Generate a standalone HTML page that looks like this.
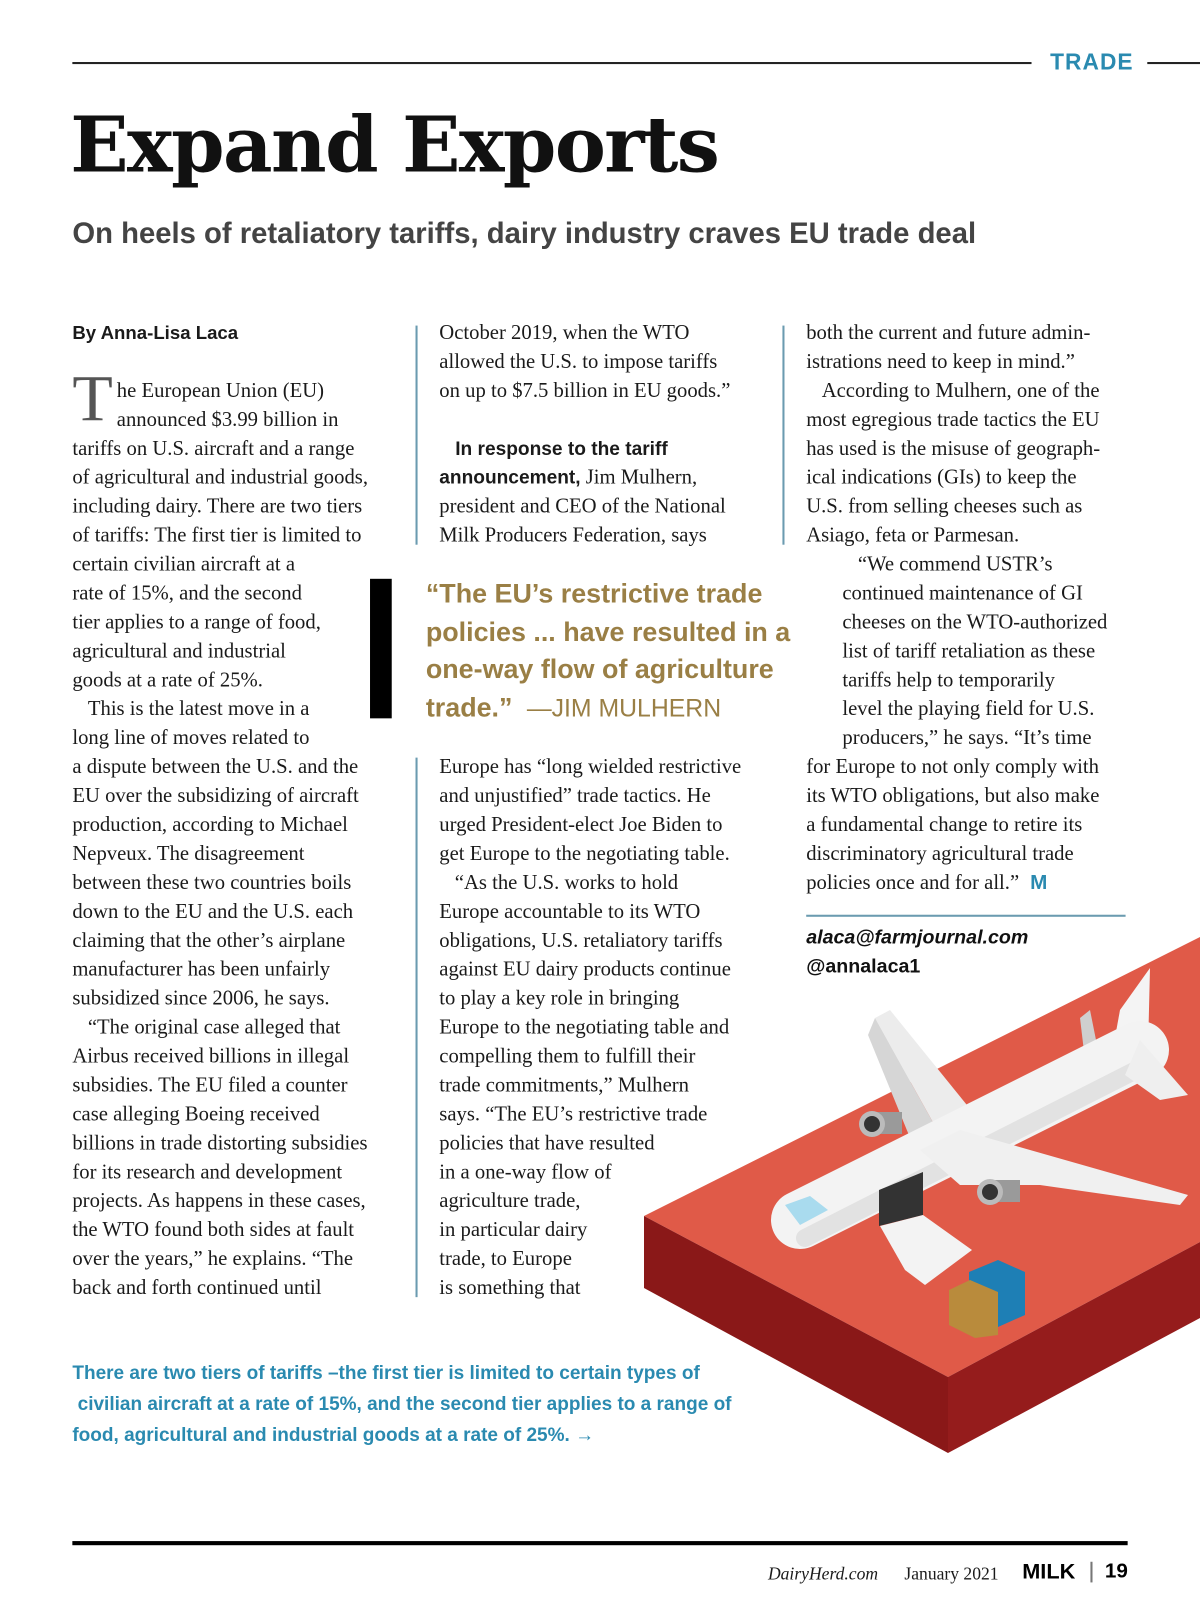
<!DOCTYPE html>
<html><head><meta charset="utf-8"><style>
html,body{margin:0;padding:0;background:#fff;}
body{width:1200px;height:1620px;position:relative;overflow:hidden;}
#art{position:absolute;left:0;top:0;}
#page{position:absolute;left:0;top:0;width:1161px;height:1567px;transform:scale(1.03359);transform-origin:0 0;}
.a{position:absolute;white-space:nowrap;}
.body{font-family:"Liberation Serif",serif;font-size:20px;line-height:28px;color:#1a1a1a;}
.col{position:absolute;}
.col div{height:28px;white-space:nowrap;}
.sans{font-family:"Liberation Sans","DejaVu Sans",sans-serif;}
.vl{position:absolute;width:1.5px;background:#6b9bb0;}
</style></head><body>
<svg id="art" width="1200" height="1620">
  <polygon points="644,1216 1200,937 1200,1242 948,1377" fill="#e05a48"/>
  <polygon points="644,1216 948,1377 948,1453 644,1288" fill="#8a1818"/>
  <polygon points="948,1377 1200,1242 1200,1318 948,1453" fill="#951c1c"/>
  <polygon points="875,1018 890,1010 975,1115 940,1135" fill="#ececec"/>
  <polygon points="875,1018 868,1035 915,1150 940,1135" fill="#d6d6d6"/>
  <polygon points="1150,968 1148,1050 1110,1065 1120,1010" fill="#f4f4f4"/>
  <polygon points="1080,1018 1090,1010 1100,1060 1085,1060" fill="#cfcfcf"/>
  <line x1="800" y1="1220" x2="1140" y2="1050" stroke="#f3f3f3" stroke-width="58" stroke-linecap="round"/>
  <line x1="805" y1="1238" x2="1140" y2="1068" stroke="#e2e2e2" stroke-width="18" stroke-linecap="round"/>
  <polygon points="1140,1040 1188,1095 1160,1100 1125,1075" fill="#efefef"/>
  <polygon points="785,1205 810,1196 828,1210 800,1225" fill="#a9dbee"/>
  <polygon points="920,1150 960,1130 1188,1195 1180,1205 1040,1185 960,1185" fill="#f0f0f0"/>
  <rect x="872" y="1112" width="30" height="22" fill="#9a9a9a"/>
  <circle cx="872" cy="1124" r="13" fill="#bbb"/><circle cx="872" cy="1124" r="8" fill="#333"/>
  <rect x="990" y="1180" width="30" height="22" fill="#9a9a9a"/>
  <circle cx="990" cy="1192" r="13" fill="#bbb"/><circle cx="990" cy="1192" r="8" fill="#333"/>
  <polygon points="879,1190 923,1172 923,1215 879,1226" fill="#333"/>
  <polygon points="880,1226 923,1215 972,1250 925,1285 905,1270" fill="#f3f3f3"/>
  <polygon points="969,1272 998,1260 1025,1272 1025,1315 998,1327 969,1315" fill="#1e7fb5"/>
  <polygon points="949,1290 970,1280 998,1292 998,1335 975,1338 949,1325" fill="#b98b3c"/>
</svg>
<div id="page">
  <div class="a" style="left:70px;top:60px;width:928px;height:2px;background:#222"></div>
  <div class="a sans" style="left:1016px;top:47px;font-size:22px;font-weight:bold;color:#2a8ab0;letter-spacing:1px">TRADE</div>
  <div class="a" style="left:1110px;top:60px;width:51px;height:2px;background:#222"></div>
  <div class="a" style="left:68px;top:98px;font-family:'DejaVu Serif',serif;font-weight:bold;font-size:74px;letter-spacing:-1.5px;color:#111">Expand Exports</div>
  <div class="a sans" style="left:70px;top:209px;font-size:28.3px;font-weight:bold;color:#444">On heels of retaliatory tariffs, dairy industry craves EU trade deal</div>

  <div class="col body" style="left:70px;top:308px">
    <div class="sans" style="font-weight:bold;font-size:18px">By Anna-Lisa Laca</div>
    <div></div>
    <div><span style="position:absolute;left:0;top:46px;font-size:64px;line-height:64px;color:#555">T</span><span style="padding-left:43px">he European Union (EU)</span></div>
    <div style="padding-left:43px">announced $3.99 billion in</div>
    <div>tariffs on U.S. aircraft and a range</div>
    <div>of agricultural and industrial goods,</div>
    <div>including dairy. There are two tiers</div>
    <div>of tariffs: The first tier is limited to</div>
    <div>certain civilian aircraft at a</div>
    <div>rate of 15%, and the second</div>
    <div>tier applies to a range of food,</div>
    <div>agricultural and industrial</div>
    <div>goods at a rate of 25%.</div>
    <div>&nbsp;&nbsp;&nbsp;This is the latest move in a</div>
    <div>long line of moves related to</div>
    <div>a dispute between the U.S. and the</div>
    <div>EU over the subsidizing of aircraft</div>
    <div>production, according to Michael</div>
    <div>Nepveux. The disagreement</div>
    <div>between these two countries boils</div>
    <div>down to the EU and the U.S. each</div>
    <div>claiming that the other’s airplane</div>
    <div>manufacturer has been unfairly</div>
    <div>subsidized since 2006, he says.</div>
    <div>&nbsp;&nbsp;&nbsp;“The original case alleged that</div>
    <div>Airbus received billions in illegal</div>
    <div>subsidies. The EU filed a counter</div>
    <div>case alleging Boeing received</div>
    <div>billions in trade distorting subsidies</div>
    <div>for its research and development</div>
    <div>projects. As happens in these cases,</div>
    <div>the WTO found both sides at fault</div>
    <div>over the years,” he explains. “The</div>
    <div>back and forth continued until</div>
  </div>

  <div class="vl" style="left:402px;top:315px;height:212px"></div>
  <div class="vl" style="left:402px;top:733px;height:522px"></div>
  <div class="vl" style="left:757px;top:315px;height:212px"></div>

  <div class="col body" style="left:425px;top:308px">
    <div>October 2019, when the WTO</div>
    <div>allowed the U.S. to impose tariffs</div>
    <div>on up to $7.5 billion in EU goods.”</div>
    <div></div>
    <div class="sans" style="font-weight:bold;font-size:18.5px">&nbsp;&nbsp;&nbsp;In response to the tariff</div>
    <div><b class="sans" style="font-size:18.5px">announcement,</b> Jim Mulhern,</div>
    <div>president and CEO of the National</div>
    <div>Milk Producers Federation, says</div>
  </div>

  <div class="a" style="left:358px;top:560px;width:21px;height:135px;background:#000"></div>
  <div class="a sans" style="left:412px;top:556px;font-size:26px;font-weight:bold;line-height:36.7px;color:#9a7f45">“The EU’s restrictive trade<br>policies ... have resulted in a<br>one-way flow of agriculture<br>trade.” <span style="font-weight:normal;font-size:24px">&nbsp;—JIM MULHERN</span></div>

  <div class="col body" style="left:425px;top:728px">
    <div>Europe has “long wielded restrictive</div>
    <div>and unjustified” trade tactics. He</div>
    <div>urged President-elect Joe Biden to</div>
    <div>get Europe to the negotiating table.</div>
    <div>&nbsp;&nbsp;&nbsp;“As the U.S. works to hold</div>
    <div>Europe accountable to its WTO</div>
    <div>obligations, U.S. retaliatory tariffs</div>
    <div>against EU dairy products continue</div>
    <div>to play a key role in bringing</div>
    <div>Europe to the negotiating table and</div>
    <div>compelling them to fulfill their</div>
    <div>trade commitments,” Mulhern</div>
    <div>says. “The EU’s restrictive trade</div>
    <div>policies that have resulted</div>
    <div>in a one-way flow of</div>
    <div>agriculture trade,</div>
    <div>in particular dairy</div>
    <div>trade, to Europe</div>
    <div>is something that</div>
  </div>

  <div class="col body" style="left:780px;top:308px">
    <div>both the current and future admin-</div>
    <div>istrations need to keep in mind.”</div>
    <div>&nbsp;&nbsp;&nbsp;According to Mulhern, one of the</div>
    <div>most egregious trade tactics the EU</div>
    <div>has used is the misuse of geograph-</div>
    <div>ical indications (GIs) to keep the</div>
    <div>U.S. from selling cheeses such as</div>
    <div>Asiago, feta or Parmesan.</div>
    <div style="padding-left:35px">&nbsp;&nbsp;&nbsp;“We commend USTR’s</div>
    <div style="padding-left:35px">continued maintenance of GI</div>
    <div style="padding-left:35px">cheeses on the WTO-authorized</div>
    <div style="padding-left:35px">list of tariff retaliation as these</div>
    <div style="padding-left:35px">tariffs help to temporarily</div>
    <div style="padding-left:35px">level the playing field for U.S.</div>
    <div style="padding-left:35px">producers,” he says. “It’s time</div>
    <div>for Europe to not only comply with</div>
    <div>its WTO obligations, but also make</div>
    <div>a fundamental change to retire its</div>
    <div>discriminatory agricultural trade</div>
    <div>policies once and for all.” <b class="sans" style="color:#2a8ab0">&nbsp;M</b></div>
  </div>
  <div class="a" style="left:780px;top:885px;width:309px;height:1.5px;background:#6b9bb0"></div>
  <div class="a sans" style="left:780px;top:897px;font-size:19px;font-weight:bold;font-style:italic;color:#111">alaca@farmjournal.com</div>
  <div class="a sans" style="left:780px;top:925px;font-size:19px;font-weight:bold;color:#111">@annalaca1</div>

  <div class="a sans" style="left:70px;top:1313px;font-size:18.4px;font-weight:bold;line-height:30px;color:#2a8ab0">There are two tiers of tariffs –the first tier is limited to certain types of<br>&nbsp;civilian aircraft at a rate of 15%, and the second tier applies to a range of<br>food, agricultural and industrial goods at a rate of 25%. →</div>

  <div class="a" style="left:70px;top:1491px;width:1021px;height:4px;background:#000"></div>
  <div class="a body" style="left:743px;top:1509px;font-size:17px;font-style:italic">DairyHerd.com</div>
  <div class="a body" style="left:875px;top:1509px;font-size:17px">January 2021</div>
  <div class="a sans" style="left:989px;top:1509px;font-size:21px;font-weight:900">MILK</div>
  <div class="a" style="left:1055px;top:1511px;width:2px;height:20px;background:#777"></div>
  <div class="a sans" style="left:1069px;top:1509px;font-size:20px;font-weight:bold">19</div>
</div>
</body></html>
